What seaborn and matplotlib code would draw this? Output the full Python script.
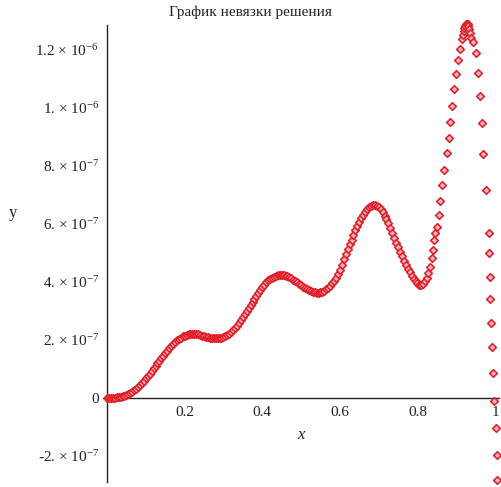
import matplotlib
matplotlib.use("Agg")
import matplotlib.pyplot as plt
import numpy as np
import pandas as pd
import seaborn as sns

# residual of the solution, y values in units of 1e-7
smooth_x = [0.000, 0.005, 0.010, 0.015, 0.020, 0.025, 0.030, 0.035, 0.040, 0.045,
            0.050, 0.055, 0.060, 0.065, 0.070, 0.075, 0.080, 0.085, 0.090, 0.095,
            0.100, 0.105, 0.110, 0.115, 0.120, 0.125, 0.130, 0.135, 0.140, 0.145,
            0.150, 0.155, 0.160, 0.165, 0.170, 0.175, 0.180, 0.185, 0.190, 0.195,
            0.200, 0.205, 0.210, 0.215, 0.220, 0.225, 0.230, 0.235, 0.240, 0.245,
            0.250, 0.255, 0.260, 0.265, 0.270, 0.275, 0.280, 0.285, 0.290, 0.295,
            0.300, 0.305, 0.310, 0.315, 0.320, 0.325, 0.330, 0.335, 0.340, 0.345,
            0.350, 0.355, 0.360, 0.365, 0.370, 0.375, 0.380, 0.385, 0.390, 0.395,
            0.400, 0.405, 0.410, 0.415, 0.420, 0.425, 0.430, 0.435, 0.440, 0.445,
            0.450, 0.455, 0.460, 0.465, 0.470, 0.475, 0.480, 0.485, 0.490, 0.495,
            0.500, 0.505, 0.510, 0.515, 0.520, 0.525, 0.530, 0.535, 0.540, 0.545,
            0.550, 0.555, 0.560, 0.565, 0.570, 0.575, 0.580, 0.585, 0.590, 0.595,
            0.600, 0.605, 0.610, 0.615, 0.620, 0.625, 0.630, 0.635, 0.640, 0.645,
            0.650, 0.655, 0.660, 0.665, 0.670, 0.675, 0.680, 0.685, 0.690, 0.695,
            0.700, 0.705, 0.710, 0.715, 0.720, 0.725, 0.730, 0.735, 0.740, 0.745,
            0.750, 0.755, 0.760, 0.765, 0.770, 0.775, 0.780, 0.785, 0.790, 0.795,
            0.800, 0.805, 0.810, 0.815, 0.820]
smooth_y = [0.00, 0.00, 0.00, 0.00, 0.01, 0.02, 0.03, 0.04, 0.06, 0.08,
            0.11, 0.14, 0.18, 0.22, 0.27, 0.32, 0.38, 0.45, 0.52, 0.59,
            0.67, 0.75, 0.84, 0.93, 1.02, 1.10, 1.19, 1.28, 1.37, 1.45,
            1.54, 1.62, 1.71, 1.78, 1.86, 1.92, 1.98, 2.03, 2.08, 2.12,
            2.15, 2.17, 2.19, 2.20, 2.21, 2.21, 2.20, 2.19, 2.17, 2.15,
            2.13, 2.11, 2.09, 2.07, 2.06, 2.05, 2.05, 2.05, 2.06, 2.08,
            2.10, 2.13, 2.17, 2.22, 2.27, 2.33, 2.40, 2.49, 2.58, 2.68,
            2.78, 2.88, 2.98, 3.09, 3.20, 3.31, 3.42, 3.52, 3.63, 3.73,
            3.82, 3.91, 3.98, 4.05, 4.10, 4.14, 4.18, 4.21, 4.23, 4.24,
            4.24, 4.23, 4.22, 4.20, 4.17, 4.13, 4.08, 4.03, 3.98, 3.93,
            3.88, 3.83, 3.79, 3.75, 3.71, 3.68, 3.66, 3.64, 3.63, 3.63,
            3.64, 3.66, 3.69, 3.74, 3.80, 3.87, 3.95, 4.04, 4.15, 4.28,
            4.42, 4.60, 4.78, 4.96, 5.13, 5.30, 5.46, 5.63, 5.78, 5.93,
            6.07, 6.19, 6.30, 6.41, 6.50, 6.57, 6.62, 6.65, 6.66, 6.63,
            6.58, 6.50, 6.40, 6.29, 6.18, 6.02, 5.85, 5.68, 5.50, 5.35,
            5.20, 5.04, 4.89, 4.73, 4.58, 4.45, 4.33, 4.21, 4.11, 4.02,
            3.95, 3.91, 3.90, 3.94, 4.02]

spike_x = [0.824, 0.828, 0.832, 0.837, 0.839, 0.843, 0.845, 0.850, 0.856, 0.858,
           0.864, 0.869, 0.876, 0.880, 0.884, 0.888, 0.893, 0.899, 0.904, 0.910,
           0.914, 0.917, 0.919, 0.921, 0.923, 0.925, 0.927, 0.929, 0.931, 0.933,
           0.935, 0.938, 0.943, 0.951, 0.955, 0.960, 0.966, 0.970, 0.976, 0.983,
           0.985, 0.986, 0.988, 0.990, 0.991, 0.994, 0.997, 1.001, 1.004, 1.005]
spike_y = [4.15, 4.31, 4.53, 4.83, 5.10, 5.45, 5.69, 5.91, 6.31, 6.80,
           7.34, 7.86, 8.44, 8.97, 9.53, 10.08, 10.66, 11.16, 11.65, 12.03,
           12.37, 12.52, 12.64, 12.75, 12.83, 12.88, 12.90, 12.88, 12.82, 12.72,
           12.60, 12.42, 12.28, 11.88, 11.22, 10.41, 9.49, 8.41, 7.17, 5.68,
           4.99, 4.18, 3.40, 2.60, 1.77, 0.85, -0.11, -1.04, -1.96, -2.83]

x_ticks = [0.2, 0.4, 0.6, 0.8, 1.0]
x_tick_labels = ["0.2", "0.4", "0.6", "0.8", "1"]
y_ticks = [-2e-7, 0, 2e-7, 4e-7, 6e-7, 8e-7, 1e-6, 1.2e-6]
y_tick_labels = [r"-2. $\times$ 10$^{-7}$", "0",
                 r"2. $\times$ 10$^{-7}$", r"4. $\times$ 10$^{-7}$",
                 r"6. $\times$ 10$^{-7}$", r"8. $\times$ 10$^{-7}$",
                 r"1. $\times$ 10$^{-6}$", r"1.2 $\times$ 10$^{-6}$"]

df = pd.DataFrame({
    "x": smooth_x + spike_x,
    "y": np.array(smooth_y + spike_y) * 1e-7,
})

sns.set_style("white")
plt.rcParams["font.family"] = ["Liberation Serif", "DejaVu Serif"]
plt.rcParams["mathtext.fontset"] = "custom"
plt.rcParams["mathtext.rm"] = "Liberation Serif"
plt.rcParams["mathtext.it"] = "Liberation Serif:italic"

fig = plt.figure(figsize=(5.01, 4.87), dpi=100)
ax = fig.add_axes([107 / 501, 5 / 487, 392 / 501, 457 / 487])

sns.scatterplot(data=df, x="x", y="y", marker="D", s=15,
                color="#f3b3b8", edgecolor="#e01f2a", linewidth=1.15,
                ax=ax, clip_on=False, zorder=3)

ax.set_xlim(0, 1.01)
ax.set_ylim(-2.9e-7, 1.286e-6)

for side in ["top", "right"]:
    ax.spines[side].set_visible(False)
ax.spines["left"].set_position(("data", 0))
ax.spines["bottom"].set_position(("data", 0))
for side in ["left", "bottom"]:
    ax.spines[side].set_color("#222222")
    ax.spines[side].set_linewidth(1.0)

ax.set_xticks(x_ticks)
ax.set_xticklabels(x_tick_labels)
ax.set_xticks([0.1, 0.3, 0.5, 0.7, 0.9], minor=True)
ax.set_yticks(y_ticks)
ax.set_yticklabels(y_tick_labels)
ax.set_yticks([-1e-7, 1e-7, 3e-7, 5e-7, 7e-7, 9e-7, 1.1e-6], minor=True)
ax.tick_params(which="major", direction="out", length=3, width=1,
               color="#222222", labelsize=11, labelcolor="#222222", pad=3)
ax.tick_params(which="minor", direction="out", length=2.2, width=1,
               color="#222222")

ax.set_xlabel("")
ax.set_ylabel("")
fig.text(0.5, 1 - 12 / 487, "График невязки решения", ha="center",
         va="center", fontsize=11, color="#222222")
fig.text(13 / 501, 1 - 213 / 487, "y", ha="center", va="center",
         fontsize=12, color="#222222")
fig.text(301 / 501, 1 - 435 / 487, "x", ha="center", va="center",
         fontsize=12, style="italic", color="#222222")

fig.savefig("out.png", dpi=100)
